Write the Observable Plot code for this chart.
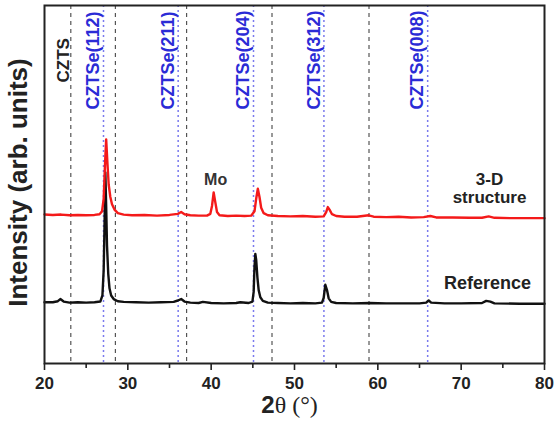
<!DOCTYPE html>
<html>
<head>
<meta charset="utf-8">
<script src="https://cdn.jsdelivr.net/npm/d3@7"></script>
<script src="https://cdn.jsdelivr.net/npm/@observablehq/plot@0.6"></script>
<style>
  body { margin: 0; background: #fff; }
  #chart svg { display: block; }
</style>
</head>
<body>
<div id="chart"></div>
<script>
// 2θ positions and intensities (arb. units)
const theta3D = [20.0,21.0,22.0,23.0,24.0,25.0,26.0,26.6,26.9,27.1,27.25,27.4,27.55,27.7,27.9,28.1,28.4,28.8,29.5,30.5,32.0,33.5,35.0,36.0,36.4,36.8,37.5,38.5,39.5,39.9,40.1,40.3,40.5,40.7,41.0,42.0,43.0,44.0,44.8,45.2,45.4,45.6,45.8,46.0,46.3,46.8,48.0,49.5,51.0,52.5,53.5,53.8,54.0,54.2,54.5,55.0,56.0,57.5,58.9,59.5,61.0,62.5,64.0,65.5,66.3,67.0,69.0,71.0,72.5,73.3,74.0,76.0,78.0,80.0];
const int3D   = [41.6,41.5,41.6,41.4,41.5,41.4,41.5,41.7,42.5,46,55,62.6,56,50,46.5,44.5,43,42,41.6,41.4,41.5,41.3,41.5,41.8,42.3,41.7,41.4,41.3,41.3,41.8,44,47.8,45,42.3,41.4,41.2,41.3,41.2,41.3,42.5,46,48.8,46.5,43.5,42,41.4,41.2,41.1,41.2,41.0,41.1,42.3,43.7,43,41.7,41.2,41.0,41.0,41.4,41.0,40.9,41.0,40.8,40.9,41.2,40.8,40.8,40.7,40.7,41.1,40.7,40.6,40.6,40.6];

const thetaRef = [20.0,21.0,21.6,21.9,22.3,23.0,24.0,25.0,26.0,26.7,26.95,27.1,27.2,27.3,27.4,27.5,27.65,27.8,28.0,28.3,28.8,29.5,31.0,32.5,34.0,35.5,36.0,36.4,36.8,37.5,38.5,39.0,40.0,41.5,43.0,43.5,44.5,44.95,45.1,45.2,45.3,45.4,45.55,45.7,45.9,46.2,46.8,48.0,49.5,51.0,52.5,53.3,53.5,53.7,53.9,54.1,54.4,55.0,57.0,59.0,61.0,63.0,65.0,65.8,66.1,66.4,68.0,70.0,72.5,73.0,73.5,74.0,77.0,80.0];
const intRef   = [17.1,17.1,17.4,18.0,17.3,17.0,17.1,17.0,17.1,17.3,19,26,38,53.4,44,33,25,21,19,18,17.4,17.2,17.1,17.0,17.1,17.2,17.6,18.0,17.3,17.0,16.9,17.2,16.9,16.8,16.9,17.1,16.9,17.3,20,27,30.6,29,24,20.5,18.5,17.5,17.0,16.9,16.8,16.9,16.8,17.0,18.3,22.0,20.5,18.2,17.2,16.9,16.8,16.9,16.8,16.8,16.8,17.0,17.6,17.0,16.8,16.8,16.9,17.5,17.3,16.8,16.7,16.7];

// reference peak positions
const cztsPeaks  = [23.16, 28.5, 37.06, 47.3, 58.94];
const cztsePeaks = [27.08, 36.04, 45.08, 53.53, 65.98];
const cztseLabels = ["CZTSe(112)", "CZTSe(211)", "CZTSe(204)", "CZTSe(312)", "CZTSe(008)"];
const cztsLabel = "CZTS";
const moPeak = 40.3;
const moLabel = "Mo";
const seriesLabels = ["3-D", "structure", "Reference"];
const majorTicks = [20, 30, 40, 50, 60, 70, 80];
const minorTicks = [25, 35, 45, 55, 65, 75];
const xLabel = "2θ (°)";
const yLabel = "Intensity (arb. units)";

const data3D  = theta3D.map((t, i) => ({t, v: int3D[i]}));
const dataRef = thetaRef.map((t, i) => ({t, v: intRef[i]}));
const cztseData = cztsePeaks.map((t, i) => ({t, label: cztseLabels[i]}));

const font = "'Liberation Sans', Arial, sans-serif";
const end3D = int3D[int3D.length - 1];
const endRef = intRef[intRef.length - 1];

const chart = Plot.plot({
  width: 557,
  height: 426,
  marginLeft: 44,
  marginRight: 13,
  marginTop: 5,
  marginBottom: 63,
  style: {fontFamily: font, background: "#fff"},
  x: {domain: [20, 80], axis: null},
  y: {domain: [0, 100], axis: null},
  marks: [
    Plot.ruleX(cztsPeaks, {stroke: "#333", strokeWidth: 1, strokeDasharray: "4,4"}),
    Plot.ruleX(cztsePeaks, {stroke: "#7a7aee", strokeWidth: 1.5, strokeDasharray: "2,3"}),
    Plot.line(dataRef, {x: "t", y: "v", stroke: "#111", strokeWidth: 2.4}),
    Plot.line(data3D, {x: "t", y: "v", stroke: "#f41a1a", strokeWidth: 2.4}),
    Plot.text(cztseData, {x: "t", text: "label", frameAnchor: "top", dy: 104, dx: -17, rotate: -90,
      textAnchor: "start", fill: "#2b2bd6", fontSize: 18, fontWeight: "bold", clip: true}),
    Plot.text([cztsLabel], {x: [cztsPeaks[0]], text: d => d, frameAnchor: "top", dy: 77, dx: -14, rotate: -90,
      textAnchor: "start", fill: "#222", fontSize: 17, fontWeight: "bold"}),
    Plot.text([moLabel], {x: [moPeak], y: [int3D[theta3D.indexOf(moPeak)]], text: d => d, dy: -13, dx: 2,
      fill: "#333", fontSize: 16, fontWeight: "bold"}),
    Plot.text([seriesLabels[0]], {x: [80], y: [end3D], text: d => d, dx: -55, dy: -39,
      fill: "#222", fontSize: 17, fontWeight: "bold"}),
    Plot.text([seriesLabels[1]], {x: [80], y: [end3D], text: d => d, dx: -55, dy: -21,
      fill: "#222", fontSize: 17, fontWeight: "bold"}),
    Plot.text([seriesLabels[2]], {x: [80], y: [endRef], text: d => d, dx: -57, dy: -20,
      fill: "#222", fontSize: 18, fontWeight: "bold"}),
    Plot.frame({stroke: "#222", strokeWidth: 2}),
    Plot.axisX({ticks: majorTicks, tickSize: 7, tickPadding: 6, fontSize: 17, fontWeight: "bold",
      tickFormat: d => d, label: null, stroke: "#222", strokeWidth: 1.6, fill: "#222"}),
    Plot.axisX({ticks: minorTicks, tickSize: 5, tickFormat: () => "", label: null, stroke: "#222", strokeWidth: 1.6}),
    Plot.text([xLabel], {text: d => d, frameAnchor: "bottom", dy: 49, dx: -5, fontSize: 24, fontWeight: "bold", fill: "#222"}),
    Plot.text([yLabel], {text: d => d, frameAnchor: "left", textAnchor: "middle", dx: -26, dy: -2, rotate: -90,
      fontSize: 26, fontWeight: "bold", fill: "#222"})
  ]
});

document.getElementById("chart").appendChild(chart);

// render x label with sans "2" and serif "θ (°)"
d3.select(chart).selectAll("text").filter(function() { return this.textContent === xLabel; })
  .each(function() {
    const t = d3.select(this);
    t.text(null);
    t.append("tspan").attr("font-family", font).attr("font-weight", "bold").text("2");
    t.append("tspan").attr("font-family", "'Liberation Serif', 'Times New Roman', serif").attr("font-weight", "normal").text("θ (°)");
  });
</script>
</body>
</html>
